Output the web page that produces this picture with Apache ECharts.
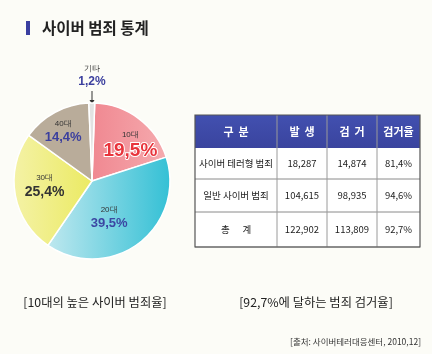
<!DOCTYPE html>
<html>
<head>
<meta charset="utf-8">
<script src="https://cdn.jsdelivr.net/npm/echarts@6/dist/echarts.min.js"></script>
<style>
  html, body { margin: 0; padding: 0; background: #fcfcf7; }
  #chart { width: 432px; height: 354px; }
</style>
</head>
<body>
<div id="chart"></div>
<script>
// 연령대별 사이버 범죄 비율
const ageGroups = ["10대", "20대", "30대", "40대", "기타"];
const ageShares = [19.5, 39.5, 25.4, 14.4, 1.2];

// 검거 현황 표
const tableHeader = ["구  분", "발  생", "검  거", "검거율"];
const crimeTypes = ["사이버 테러형 범죄", "일반 사이버 범죄", "총      계"];
const occurred = [18287, 104615, 122902];
const arrested = [14874, 98935, 113809];
const arrestRate = [81.4, 94.6, 92.7];

const fmtNum = (v) => v.toLocaleString("en-US");
const fmtPct = (v) => v.toFixed(1).replace(".", ",") + "%";

const sliceColors = [
  { type: "linear", x: 0, y: 0, x2: 1, y2: 0, colorStops: [{ offset: 0, color: "#f08891" }, { offset: 1, color: "#f5aaae" }] },
  { type: "linear", x: 0, y: 0, x2: 1, y2: 0, colorStops: [{ offset: 0, color: "#bfe8ef" }, { offset: 1, color: "#33c0d5" }] },
  { type: "linear", x: 0, y: 0, x2: 1, y2: 0, colorStops: [{ offset: 0, color: "#f4f2a6" }, { offset: 1, color: "#ebea62" }] },
  "#b9ac9a",
  "#e2e2e2",
];
const labelOffsets = [[13, -2], [-8, 3], [-6, -2], [-9, -12], [0, -63]];
const pctStyles = [
  { color: "#e8343c", size: 19 },
  { color: "#3b46a2", size: 13 },
  { color: "#333333", size: 14 },
  { color: "#3b3f9e", size: 13 },
  { color: "#3b3f9e", size: 12 },
];

const pieData = ageGroups.map((name, i) => ({
  name: name,
  value: ageShares[i],
  itemStyle: { color: sliceColors[i] },
  label: {
    offset: labelOffsets[i],
    formatter: "{a|" + name + "}\n{b|" + fmtPct(ageShares[i]) + "}",
    rich: {
      a: { fontSize: 8, color: "#333", lineHeight: 11, align: "center" },
      b: {
        fontSize: pctStyles[i].size, fontWeight: "bold", color: pctStyles[i].color,
        lineHeight: pctStyles[i].size + 3, align: "center",
        textBorderColor: i === 0 ? "#fff" : "transparent", textBorderWidth: i === 0 ? 2 : 0,
      },
    },
  },
}));

// 표 그리기
const colX = [195, 277, 327, 377, 420];
const rowY = [115, 148, 179, 212, 247];
const tableEls = [];
tableEls.push({
  type: "rect", shape: { x: colX[0], y: rowY[0], width: colX[4] - colX[0], height: rowY[1] - rowY[0] },
  style: { fill: { type: "linear", x: 0, y: 0, x2: 0, y2: 1, colorStops: [{ offset: 0, color: "#4250b0" }, { offset: 1, color: "#3a449e" }] } },
});
tableEls.push({
  type: "rect", shape: { x: colX[0], y: rowY[1], width: colX[4] - colX[0], height: rowY[4] - rowY[1] },
  style: { fill: "#ffffff" },
});
for (let r = 1; r < rowY.length - 1; r++) {
  tableEls.push({ type: "line", shape: { x1: colX[0], y1: rowY[r + 1], x2: colX[4], y2: rowY[r + 1] }, style: { stroke: "#8a8a8a", lineWidth: 1 } });
}
for (let c = 1; c < colX.length - 1; c++) {
  tableEls.push({ type: "line", shape: { x1: colX[c], y1: rowY[0], x2: colX[c], y2: rowY[4] }, style: { stroke: "#9a9a9a", lineWidth: 1 } });
}
tableEls.push({
  type: "rect", shape: { x: colX[0], y: rowY[0], width: colX[4] - colX[0], height: rowY[4] - rowY[0] },
  style: { fill: "none", stroke: "#555", lineWidth: 1.2 },
});
tableHeader.forEach((t, c) => {
  tableEls.push({
    type: "text", x: (colX[c] + colX[c + 1]) / 2, y: (rowY[0] + rowY[1]) / 2,
    style: { text: t, fill: "#fff", font: "bold 11px 'Noto Sans CJK KR'", align: "center", verticalAlign: "middle" },
  });
});
crimeTypes.forEach((name, r) => {
  const cells = [name, fmtNum(occurred[r]), fmtNum(arrested[r]), fmtPct(arrestRate[r])];
  cells.forEach((t, c) => {
    tableEls.push({
      type: "text", x: (colX[c] + colX[c + 1]) / 2, y: (rowY[r + 1] + rowY[r + 2]) / 2,
      style: { text: t, fill: "#222", font: (c === 0 ? "9.5px" : "9.5px") + " 'Noto Sans CJK KR'", align: "center", verticalAlign: "middle" },
    });
  });
});

const chart = echarts.init(document.getElementById("chart"));
chart.setOption({
  backgroundColor: "#fcfcf7",
  animation: false,
  series: [{
    type: "pie",
    center: [92, 181],
    radius: 78,
    startAngle: 88,
    clockwise: true,
    silent: true,
    itemStyle: { borderColor: "#fff", borderWidth: 1.5 },
    label: { show: true, position: "inside" },
    labelLine: { show: false },
    data: pieData,
  }],
  graphic: [
    { type: "rect", shape: { x: 26, y: 21, width: 4, height: 14 }, style: { fill: "#3a3fa0" } },
    { type: "text", x: 42, y: 28, style: { text: "사이버 범죄 통계", fill: "#222", font: "bold 15.5px 'Noto Sans CJK KR'", verticalAlign: "middle" } },
    // 기타 화살표
    { type: "line", shape: { x1: 92, y1: 91, x2: 92, y2: 101 }, style: { stroke: "#333", lineWidth: 1 } },
    { type: "polygon", shape: { points: [[89.5, 100], [94.5, 100], [92, 104]] }, style: { fill: "#333" } },
    { type: "group", children: tableEls },
    { type: "text", x: 95, y: 302, style: { text: "[10대의 높은 사이버 범죄율]", fill: "#222", font: "12.3px 'Noto Sans CJK KR'", align: "center", verticalAlign: "middle" } },
    { type: "text", x: 316, y: 302, style: { text: "[" + fmtPct(arrestRate[2]) + "에 달하는 범죄 검거율]", fill: "#222", font: "12.3px 'Noto Sans CJK KR'", align: "center", verticalAlign: "middle" } },
    { type: "text", x: 421, y: 342, style: { text: "[출처: 사이버테러대응센터, 2010,12]", fill: "#333", font: "8.5px 'Noto Sans CJK KR'", align: "right", verticalAlign: "middle" } },
  ],
});
</script>
</body>
</html>
